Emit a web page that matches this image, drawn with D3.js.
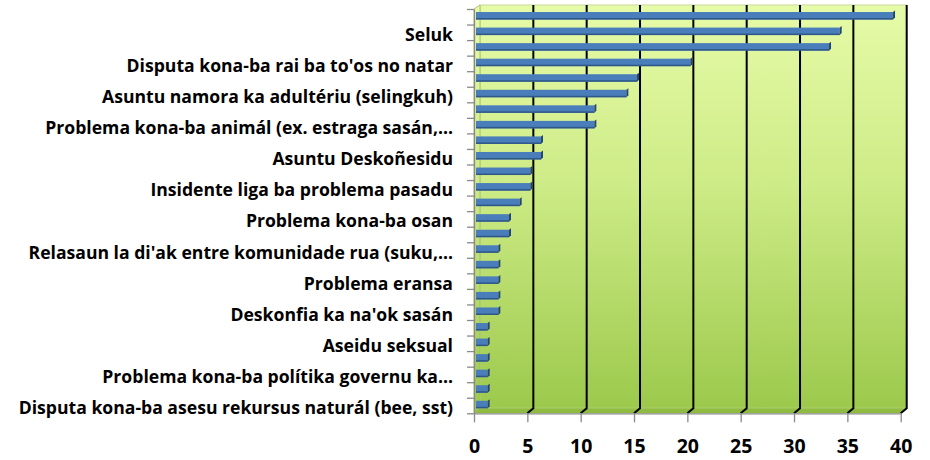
<!DOCTYPE html>
<html>
<head>
<meta charset="utf-8">
<script src="https://cdn.jsdelivr.net/npm/d3@7"></script>
<style>
  body { margin: 0; background: #fff; }
  text { font-family: "Open Sans", Lato, sans-serif; font-weight: bold; fill: #000; }
</style>
</head>
<body>
<div id="chart"></div>
<script>
// values, top bar first
const values = [39,34,33,20,15,14,11,11,6,6,5,5,4,3,3,2,2,2,2,2,1,1,1,1,1,1];
// only every second bar has its label shown in the source
const shownLabels = [
  "Seluk",
  "Disputa kona-ba rai ba to'os no natar",
  "Asuntu namora ka adultériu (selingkuh)",
  "Problema kona-ba animál (ex. estraga sasán,...",
  "Asuntu Deskoñesidu",
  "Insidente liga ba problema pasadu",
  "Problema kona-ba osan",
  "Relasaun la di'ak entre komunidade rua (suku,...",
  "Problema eransa",
  "Deskonfia ka na'ok sasán",
  "Aseidu seksual",
  "Problema kona-ba polítika governu ka...",
  "Disputa kona-ba asesu rekursus naturál (bee, sst)"
];
const xTicks = [0,5,10,15,20,25,30,35,40];

const width = 930, height = 460;
const front = {left:474, right:900.7, top:9, bottom:413.3};
const depth = {dx:6, dy:-5};

const svg = d3.select("#chart").append("svg")
  .attr("width", width).attr("height", height);

const x = d3.scaleLinear().domain([0,40]).range([front.left, front.right]);
const y = d3.scaleBand().domain(d3.range(values.length)).range([front.top, front.bottom]);

const defs = svg.append("defs");
const grad = defs.append("linearGradient").attr("id","wall").attr("x1",0).attr("y1",0).attr("x2",0).attr("y2",1);
grad.append("stop").attr("offset","0%").attr("stop-color","#e6fba8");
grad.append("stop").attr("offset","45%").attr("stop-color","#cdeb86");
grad.append("stop").attr("offset","100%").attr("stop-color","#9cc94c");

const backTop = 5, backBottom = front.bottom + depth.dy;

// back wall
svg.append("rect")
  .attr("x", x(0)+depth.dx).attr("y", backTop)
  .attr("width", x(40)-x(0)).attr("height", backBottom-backTop)
  .attr("fill","url(#wall)").attr("stroke","#c9d99a").attr("stroke-width",1);

// left wall
svg.append("polygon")
  .attr("points", [[x(0),front.top],[x(0)+depth.dx,backTop],[x(0)+depth.dx,backBottom],[x(0),front.bottom]].join(" "))
  .attr("fill","url(#wall)").attr("stroke","#9fb56a").attr("stroke-width",0.8);

// floor
svg.append("polygon")
  .attr("points", [[x(0),front.bottom],[x(40),front.bottom],[x(40)+depth.dx,backBottom],[x(0)+depth.dx,backBottom]].join(" "))
  .attr("fill","#8fbb40");

// gridlines on the back wall bending to the floor front edge
svg.append("g").selectAll("path").data(xTicks.slice(1)).enter()
  .append("path")
  .attr("d", d => `M${x(d)+depth.dx},${backTop}V${backBottom}L${x(d)},${front.bottom}`)
  .attr("fill","none").attr("stroke","#000").attr("stroke-width",2);

// bars
const bh = 7.5;
const bars = svg.append("g").selectAll("g").data(values).enter().append("g")
  .attr("transform",(d,i) => `translate(0,${y(i)+y.bandwidth()/2-1-bh/2})`);
bars.append("rect")
  .attr("x", x(0)+2).attr("y",0)
  .attr("width", d => x(d)+3-(x(0)+2)).attr("height", bh)
  .attr("fill","#4a7ebb");
bars.append("rect")
  .attr("x", x(0)+2).attr("y",bh-1.5)
  .attr("width", d => x(d)+3-(x(0)+2)).attr("height",1.5)
  .attr("fill","#2f5788");
bars.append("polygon")
  .attr("points", d => [[x(d)+3,0],[x(d)+5,-1.5],[x(d)+5,bh-2],[x(d)+3,bh]].join(" "))
  .attr("fill","#27466e");

// left axis with ticks between bars
const yEdge = d3.scaleLinear().domain([0,values.length]).range([front.top, front.bottom]);
svg.append("g")
  .attr("transform",`translate(${front.left},0)`)
  .call(d3.axisLeft(yEdge).tickValues(d3.range(values.length+1)).tickSize(7).tickSizeOuter(0).tickFormat(""))
  .call(g => g.selectAll("line,path").attr("stroke","#8a8a8a").attr("stroke-width",1.3));

// category labels
svg.append("g").selectAll("text").data(values).enter()
  .filter((d,i) => i % 2 === 1)
  .append("text")
  .attr("x", 453)
  .attr("y", (d,i) => y(i*2+1) + y.bandwidth()/2 + 8.5)
  .attr("text-anchor","end")
  .attr("font-size","17.6px")
  .text((d,i) => shownLabels[i]);

// bottom axis
svg.append("g")
  .attr("transform",`translate(0,${front.bottom})`)
  .call(d3.axisBottom(x).tickValues(xTicks).tickSize(9).tickSizeOuter(0).tickFormat(d3.format("d")))
  .call(g => g.selectAll("line,path").attr("stroke","#8a8a8a").attr("stroke-width",1.3))
  .call(g => g.selectAll("text").attr("font-size","19.5px").attr("y",null).attr("dy",null)
    .attr("transform","translate(0,39.5)").style("font-family","'Open Sans', sans-serif").style("font-weight","bold").attr("fill","#000"));
</script>
</body>
</html>
